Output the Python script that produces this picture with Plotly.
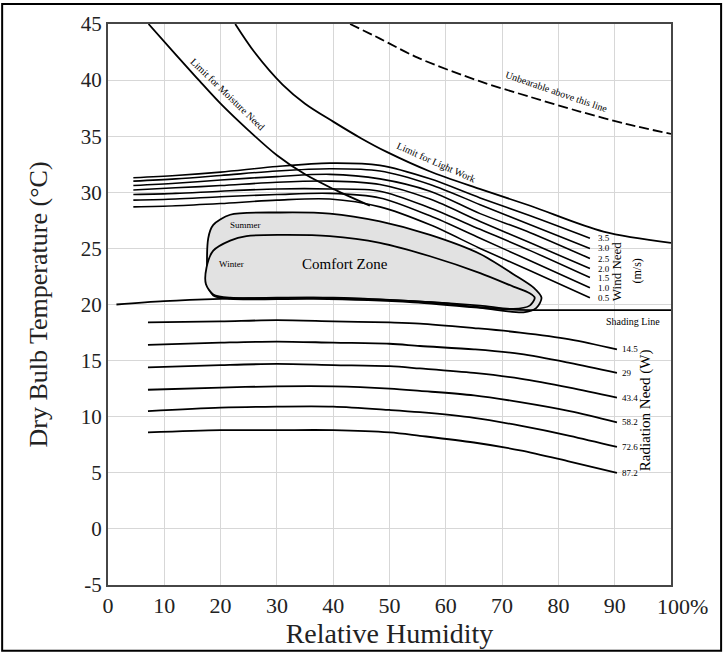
import plotly.graph_objects as go

# ---------------- data ----------------
x_ticks = [0, 10, 20, 30, 40, 50, 60, 70, 80, 90, 100]
x_ticklabels = ["0", "10", "20", "30", "40", "50", "60", "70", "80", "90", ""]
x_last_label = "100%"
y_ticks = [-5, 0, 5, 10, 15, 20, 25, 30, 35, 40, 45]
y_ticklabels = ["-5", "0", "5", "10", "15", "20", "25", "30", "35", "40", "45"]

moisture_x = [7.2, 12, 16.3, 20, 25, 30, 35, 40, 46.5]
moisture_y = [45, 42.3, 39.9, 37.9, 35.5, 33.3, 31.6, 30.3, 28.8]

lightwork_x = [22.6, 26, 31, 35, 40, 45, 49.5, 57, 66, 75, 88, 100]
lightwork_y = [45, 42.5, 39.6, 37.9, 36.3, 34.8, 33.6, 31.9, 30.3, 28.8, 26.5, 25.5]

unbearable_x = [43.0, 48.3, 55, 66, 75, 83.8, 92, 100]
unbearable_y = [45, 43.7, 42.0, 39.9, 38.5, 37.2, 36.1, 35.2]

wind_x = [4.5, 12, 20, 30, 39.4, 48.3, 57.2, 66.1, 75, 85.6]
wind_labels = ["3.5", "3.0", "2.5", "2.0", "1.5", "1.0", "0.5"]
wind_y = [
    [31.3, 31.5, 31.8, 32.3, 32.6, 32.4, 31.2, 29.5, 27.9, 25.9],
    [31.0, 31.2, 31.5, 31.9, 32.1, 31.9, 30.7, 28.9, 27.1, 25.0],
    [30.6, 30.8, 31.1, 31.4, 31.6, 31.2, 30.1, 28.1, 26.4, 24.1],
    [30.2, 30.4, 30.6, 30.9, 31.0, 30.7, 29.4, 27.4, 25.5, 23.2],
    [29.8, 29.9, 30.1, 30.3, 30.3, 30.1, 28.6, 26.7, 24.8, 22.4],
    [29.3, 29.4, 29.6, 29.8, 29.9, 29.5, 27.9, 25.9, 23.9, 21.5],
    [28.7, 28.8, 29.0, 29.3, 29.4, 28.7, 27.1, 25.0, 23.0, 20.6],
]

rad_x = [7.1, 20, 30, 40, 50, 55.4, 65, 73.2, 82, 90.4]
rad_labels = ["14.5", "29", "43.4", "58.2", "72.6", "87.2"]
rad_y = [
    [18.4, 18.5, 18.6, 18.5, 18.4, 18.3, 17.9, 17.5, 16.9, 16.0],
    [16.4, 16.6, 16.7, 16.6, 16.5, 16.3, 16.0, 15.6, 14.8, 13.9],
    [14.4, 14.6, 14.7, 14.6, 14.5, 14.3, 13.9, 13.4, 12.6, 11.7],
    [12.4, 12.6, 12.7, 12.7, 12.5, 12.3, 11.9, 11.3, 10.5, 9.5],
    [10.5, 10.8, 10.9, 10.9, 10.6, 10.4, 9.9, 9.2, 8.3, 7.3],
    [8.6, 8.8, 8.8, 8.8, 8.6, 8.3, 7.7, 7.0, 6.0, 5.0],
]

shading_x = [1.5, 10, 20, 30, 40, 50, 60, 65, 70, 75, 85, 100]
shading_y = [20.0, 20.3, 20.5, 20.6, 20.6, 20.4, 20.1, 19.8, 19.6, 19.5, 19.5, 19.5]

summer_x = [17.8, 17.8, 18.7, 21.7, 30.6, 39.4, 48.3, 57.2, 66.1, 72.0, 75.6, 77.0,
            76.1, 73.8, 66.1, 54.2, 36.5, 21.7, 18.7, 17.8]
summer_y = [21.8, 25.9, 27.1, 28.0, 28.2, 28.1, 27.4, 26.2, 24.5, 22.7, 21.5, 20.6,
            19.7, 19.3, 19.7, 20.2, 20.5, 20.5, 20.8, 21.8]

winter_x = [17.5, 18.7, 21.7, 24.6, 30.6, 39.4, 48.3, 57.2, 66.1, 72.0, 74.9, 75.8,
            74.9, 72.0, 66.1, 54.2, 36.5, 21.7, 18.7, 17.4, 17.5]
winter_y = [23.3, 24.8, 25.7, 26.1, 26.2, 26.1, 25.5, 24.3, 22.8, 21.6, 21.0, 20.6,
            19.9, 19.6, 19.9, 20.3, 20.6, 20.6, 20.9, 21.8, 23.3]

# ---------------- figure ----------------
FONT = "Liberation Serif"
LW = 1.8
fig = go.Figure()

zone_fill = "rgb(226,226,226)"
fig.add_trace(go.Scatter(x=summer_x, y=summer_y, mode="lines", fill="toself",
                         fillcolor=zone_fill, line=dict(color="black", width=LW, shape="spline", smoothing=0.8),
                         hoverinfo="skip", showlegend=False))
fig.add_trace(go.Scatter(x=winter_x, y=winter_y, mode="lines", fill="toself",
                         fillcolor=zone_fill, line=dict(color="black", width=LW, shape="spline", smoothing=0.8),
                         hoverinfo="skip", showlegend=False))

def add_line(xs, ys, dash="solid", width=LW):
    fig.add_trace(go.Scatter(x=xs, y=ys, mode="lines",
                             line=dict(color="black", width=width, dash=dash, shape="spline", smoothing=0.9),
                             hoverinfo="skip", showlegend=False))

add_line(moisture_x, moisture_y)
add_line(lightwork_x, lightwork_y)
add_line(unbearable_x, unbearable_y, dash="10px,4px")
for ys in wind_y:
    add_line(wind_x, ys, width=1.6)
for ys in rad_y:
    add_line(rad_x, ys)
add_line(shading_x, shading_y)

ann = []
def txt(x, y, s, size, angle=0, xanchor="center", yanchor="middle"):
    ann.append(dict(x=x, y=y, xref="x", yref="y", text=s, showarrow=False, textangle=angle,
                    font=dict(family=FONT, size=size, color="black"),
                    xanchor=xanchor, yanchor=yanchor))

txt(21.3, 38.7, "Limit for Moisture Need", 10, 44)
txt(58.4, 32.7, "Limit for Light Work", 10, 24)
txt(79.6, 39.0, "Unbearable above this line", 10, 19)
for lab, ys in zip(wind_labels, wind_y):
    txt(86.6, ys[-1], lab, 9, xanchor="left")
txt(90.3, 23.0, "Wind Need", 13, -90)
txt(93.9, 23.0, "(m/s)", 12, -90)
txt(93.2, 18.5, "Shading Line", 10)
for lab, ys in zip(rad_labels, rad_y):
    txt(90.9, ys[-1], lab, 9, xanchor="left")
txt(95.6, 10.6, "Radiation Need (W)", 15, -90)
txt(24.5, 27.1, "Summer", 9)
txt(22.0, 23.6, "Winter", 9)
txt(42.1, 23.6, "Comfort Zone", 15)

# last x tick label, drawn a bit to the right as in the reference
ann.append(dict(x=0.972, y=0, xref="paper", yref="paper", text=x_last_label, showarrow=False,
                font=dict(family=FONT, size=22, color="#222"), xanchor="left", yanchor="top", yshift=-7))

fig.update_layout(
    width=724, height=659,
    margin=dict(l=108, r=53, t=22, b=74),
    paper_bgcolor="white", plot_bgcolor="white",
    font=dict(family=FONT, color="black"),
    annotations=ann,
    shapes=[dict(type="rect", xref="paper", yref="paper",
                 x0=-0.188, x1=1.089, y0=-0.117, y1=1.0355,
                 line=dict(color="black", width=2), layer="below")],
    xaxis=dict(range=[0, 100], tickvals=x_ticks, ticktext=x_ticklabels,
               showgrid=True, gridcolor="rgb(215,215,215)", gridwidth=1,
               showline=True, linecolor="rgb(70,70,70)", linewidth=2, mirror=True,
               ticks="", zeroline=False,
               tickfont=dict(family=FONT, size=22, color="#222"),
               title=dict(text="Relative Humidity", font=dict(family=FONT, size=28, color="#222"), standoff=0)),
    yaxis=dict(range=[-5, 45], tickvals=y_ticks, ticktext=y_ticklabels,
               showgrid=True, gridcolor="rgb(215,215,215)", gridwidth=1,
               showline=True, linecolor="rgb(70,70,70)", linewidth=2, mirror=True,
               ticks="", zeroline=False,
               tickfont=dict(family=FONT, size=21, color="#222"),
               title=dict(text="Dry Bulb Temperature (°C)", font=dict(family=FONT, size=26, color="#222"), standoff=26)),
)

fig.write_html("out.html", config={"displayModeBar": False})
